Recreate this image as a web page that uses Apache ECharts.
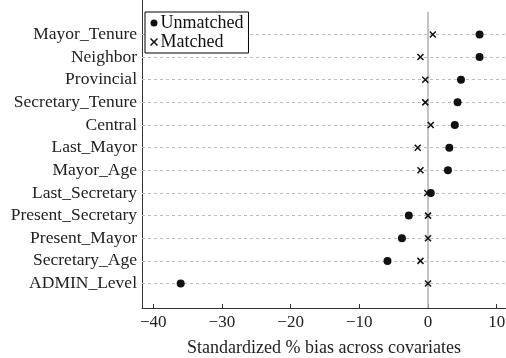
<!DOCTYPE html>
<html>
<head>
<meta charset="utf-8">
<script src="https://cdn.jsdelivr.net/npm/echarts@6/dist/echarts.min.js"></script>
<style>
  html, body { margin: 0; padding: 0; background: #fff; }
  #chart { width: 506px; height: 358px; }
</style>
</head>
<body>
<div id="chart"></div>
<script>
// Covariates, listed top to bottom
const categories = [
  'Mayor_Tenure', 'Neighbor', 'Provincial', 'Secretary_Tenure', 'Central',
  'Last_Mayor', 'Mayor_Age', 'Last_Secretary', 'Present_Secretary',
  'Present_Mayor', 'Secretary_Age', 'ADMIN_Level'
];
// Standardized % bias before matching
const unmatched = [7.5, 7.5, 4.8, 4.3, 3.9, 3.1, 2.9, 0.4, -2.8, -3.8, -5.9, -36.0];
// Standardized % bias after matching
const matched = [0.7, -1.1, -0.4, -0.4, 0.4, -1.5, -1.1, -0.1, 0.0, 0.0, -1.1, 0.0];
// x-axis tick values
const xTicks = [-40, -30, -20, -10, 0, 10];

const n = categories.length;
const yMin = -0.08, yMax = 13.52;
const font = "'Liberation Serif', 'DejaVu Serif', serif";
const crossPath = 'path://M0,0L10,10M10,0L0,10';

const rowPos = i => n - i;
const unmatchedData = categories.map((c, i) => [unmatched[i], rowPos(i)]);
const matchedData = categories.map((c, i) => [matched[i], rowPos(i)]);

const chart = echarts.init(document.getElementById('chart'), null, { renderer: 'canvas' });
chart.setOption({
  animation: false,
  backgroundColor: '#fff',
  grid: { left: 142, right: 0, top: 0, bottom: 50, containLabel: false, outerBoundsMode: 'none' },
  xAxis: {
    type: 'value',
    min: -41.63,
    max: 11.35,
    name: 'Standardized % bias across covariates',
    nameLocation: 'middle',
    nameGap: 31,
    nameTextStyle: { fontFamily: font, fontSize: 18, color: '#222' },
    axisLine: { show: true, onZero: false, lineStyle: { color: '#333', width: 1 } },
    axisTick: { show: true, inside: true, length: 4, customValues: xTicks, lineStyle: { color: '#333' } },
    axisLabel: {
      customValues: xTicks,
      margin: 6,
      fontFamily: font, fontSize: 17, color: '#222',
      formatter: v => (v < 0 ? '\u2212' + Math.abs(v) : String(v))
    },
    splitLine: { show: false }
  },
  yAxis: {
    type: 'value',
    min: yMin,
    max: yMax,
    axisLine: { show: true, onZero: false, lineStyle: { color: '#333', width: 1 } },
    axisTick: { show: false },
    axisLabel: {
      customValues: categories.map((c, i) => rowPos(i)),
      margin: 5,
      fontFamily: font, fontSize: 17.5, color: '#222',
      formatter: v => categories[n - v] || ''
    },
    splitLine: { show: false }
  },
  legend: {
    orient: 'vertical',
    left: 145,
    top: 12,
    padding: [2, 5, 2, 3],
    itemGap: 1,
    itemWidth: 7,
    itemHeight: 7,
    backgroundColor: '#fff',
    borderColor: '#000',
    borderWidth: 1,
    textStyle: { fontFamily: font, fontSize: 18, color: '#111', padding: [0, 0, 0, -2] },
    data: [
      { name: 'Unmatched', icon: 'circle', itemStyle: { color: '#111', opacity: 1 } },
      { name: 'Matched', icon: crossPath, itemStyle: { color: 'none', borderColor: '#111', borderWidth: 1.5, opacity: 1 } }
    ]
  },
  series: [
    {
      // dashed row guides and the zero reference line, kept beneath the markers
      name: 'guides',
      type: 'scatter',
      data: [],
      z: 1,
      silent: true,
      markLine: {
        z: 1,
        silent: true,
        symbol: 'none',
        animation: false,
        label: { show: false },
        data: categories.map((c, i) => ({
          yAxis: rowPos(i),
          lineStyle: { type: [3, 3], color: '#bdbdbd', width: 1 }
        })).concat([[
          { coord: [0, 13.0], lineStyle: { type: 'solid', color: '#b0b0b0', width: 1.5 } },
          { coord: [0, yMin] }
        ]])
      }
    },
    {
      name: 'Unmatched',
      type: 'scatter',
      z: 3,
      symbol: 'circle',
      symbolSize: 8,
      itemStyle: { color: '#111', opacity: 1, borderWidth: 0 },
      data: unmatchedData
    },
    {
      name: 'Matched',
      type: 'scatter',
      z: 4,
      symbol: crossPath,
      symbolSize: 6,
      itemStyle: { color: 'none', borderColor: '#111', borderWidth: 1.5, opacity: 1 },
      data: matchedData
    }
  ]
});
</script>
</body>
</html>
